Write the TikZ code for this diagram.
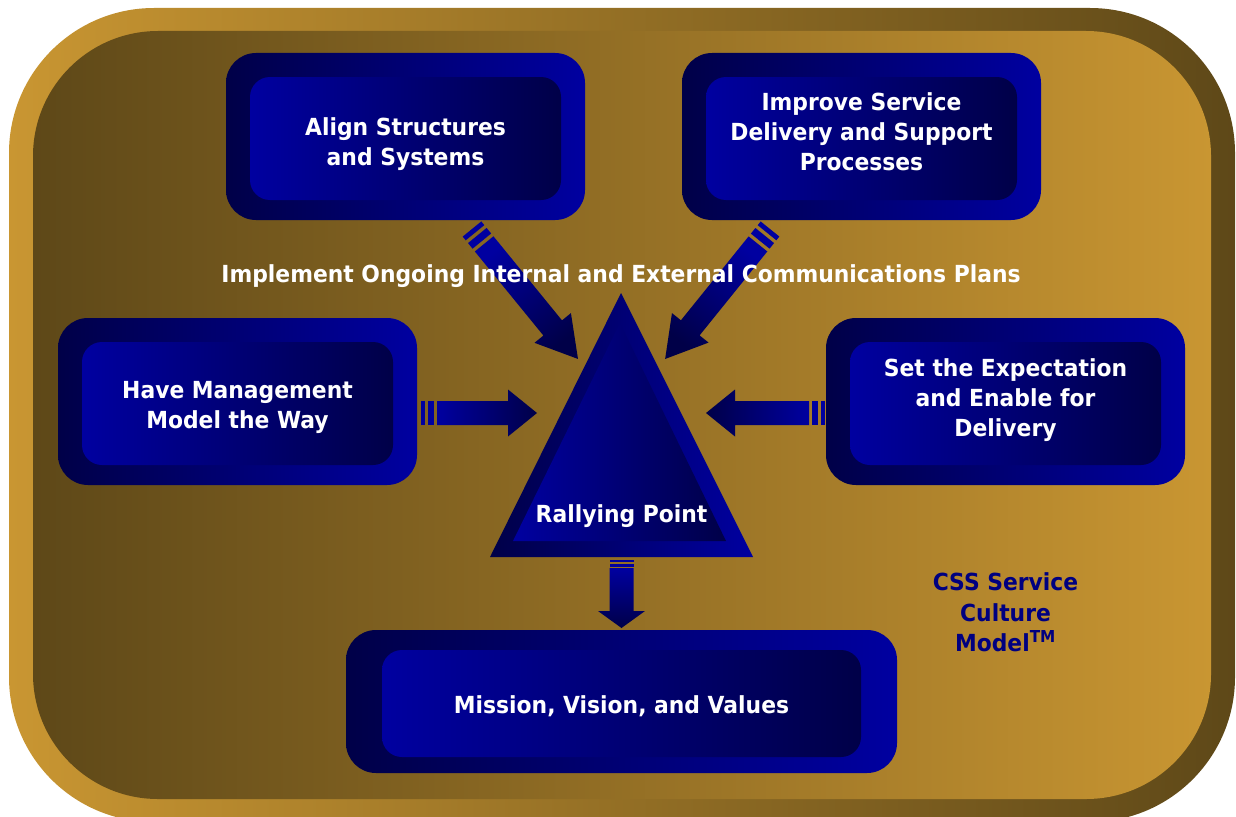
\documentclass[tikz,border=0pt]{standalone}
\usepackage{fontspec}
\setmainfont{DejaVu Sans}[FakeStretch=0.93]
\usetikzlibrary{calc}

\definecolor{gold}{RGB}{201,150,50}
\definecolor{umber}{RGB}{94,72,24}
\definecolor{royal}{RGB}{0,0,160}
\definecolor{navy}{RGB}{0,0,72}
\definecolor{inkblue}{RGB}{0,0,128}

% Barred block arrow along the local x axis:
% #1 start, #2 direction, #3 length, #4 head length, #5 bar scale, #6 shading angle
\newcommand\bararrow[6]{%
  \begin{scope}[shift={#1}, rotate=#2]
    \fill[royal] (0,-12) rectangle (4*#5,12);
    \fill[royal] (7*#5,-12) rectangle (13*#5,12);
    \shade[top color=royal, bottom color=navy, shading angle=#6]
      (16*#5,-12) -- (#3-#4,-12) -- (#3-#4,-23.5) -- (#3,0)
      -- (#3-#4,23.5) -- (#3-#4,12) -- (16*#5,12) -- cycle;
  \end{scope}}

\tikzset{
  outerbox/.style={rectangle, rounded corners=30pt, inner sep=0, outer sep=0,
    left color=navy, right color=royal},
  innerbox/.style={rectangle, rounded corners=20pt, inner sep=0, outer sep=0,
    left color=royal, right color=navy},
  lbl/.style={text=white, font=\fontsize{23.5}{30}\selectfont\bfseries,
    align=center, inner sep=0},
}

\begin{document}
\begin{tikzpicture}[x=1pt, y=-1pt]
  \useasboundingbox (0,0) rectangle (1236,816);

  % frame
  \shade[rounded corners=145pt, left color=gold, right color=umber]
    (9,8) rectangle (1235,822);
  \shade[rounded corners=125pt, left color=umber, right color=gold]
    (33,31) rectangle (1211,799);

  % boxes
  \node[outerbox, minimum width=359pt, minimum height=167pt] (alignO)   at (405.5,136.5) {};
  \node[innerbox, minimum width=311pt, minimum height=123pt] (alignI)   at (405.5,138.5) {};
  \node[outerbox, minimum width=359pt, minimum height=167pt] (improveO) at (861.5,136.5) {};
  \node[innerbox, minimum width=311pt, minimum height=123pt] (improveI) at (861.5,138.5) {};
  \node[outerbox, minimum width=359pt, minimum height=167pt] (mgmtO)    at (237.5,401.5) {};
  \node[innerbox, minimum width=311pt, minimum height=123pt] (mgmtI)    at (237.5,403.5) {};
  \node[outerbox, minimum width=359pt, minimum height=167pt] (expectO)  at (1005.5,401.5) {};
  \node[innerbox, minimum width=311pt, minimum height=123pt] (expectI)  at (1005.5,403.5) {};
  \node[outerbox, minimum width=551pt, minimum height=143pt] (missionO) at (621.5,701.5) {};
  \node[innerbox, minimum width=479pt, minimum height=107pt] (missionI) at (621.5,703.5) {};

  % rallying point triangle
  \coordinate (tTop) at (621,293);
  \coordinate (tLeft) at (490,557);
  \coordinate (tRight) at (753,557);
  \coordinate (iTop) at (620,323);
  \coordinate (iLeft) at (513,541);
  \coordinate (iRight) at (726,541);
  \shade[left color=navy, right color=royal] (tTop) -- (tLeft) -- (tRight) -- cycle;
  \shade[left color=royal, right color=navy] (iTop) -- (iLeft) -- (iRight) -- cycle;

  % arrows into and out of the triangle
  \bararrow{(472,229)}{-50.8}{167.7}{40}{1.2}{39.2}
  \bararrow{(770,229)}{-128.9}{167}{40}{1.2}{-38.9}
  \bararrow{(421,413)}{0}{116}{29}{1}{90}
  \bararrow{(825,413)}{180}{119}{29}{1}{-90}
  \bararrow{(621.5,560)}{-90}{68}{17}{0.5}{0}

  % labels
  \node[lbl] (alignT)   at (405.5,143.8) {Align Structures\\and Systems};
  \node[lbl] (improveT) at (861.5,131.5) {Improve Service\\Delivery and Support\\Processes};
  \node[lbl] (mgmtT)    at (237.5,407) {Have Management\\Model the Way};
  \node[lbl] (expectT)  at (1005.5,400) {Set the Expectation\\and Enable for\\Delivery};
  \node[lbl, anchor=base] (missionT) at (621.5,713) {Mission, Vision, and Values};
  \node[lbl, anchor=base] (rallyT)   at (621.5,522) {Rallying Point};
  \node[lbl, anchor=base] (commsT)   at (621,282)
    {Implement Ongoing Internal and External Communications Plans};
  \node[lbl, text=inkblue, font=\fontsize{23.5}{30.5}\selectfont\bfseries] (modelT)
    at (1005.5,612.5) {CSS Service\\Culture\\Model\textsuperscript{TM}};
\end{tikzpicture}
\end{document}
